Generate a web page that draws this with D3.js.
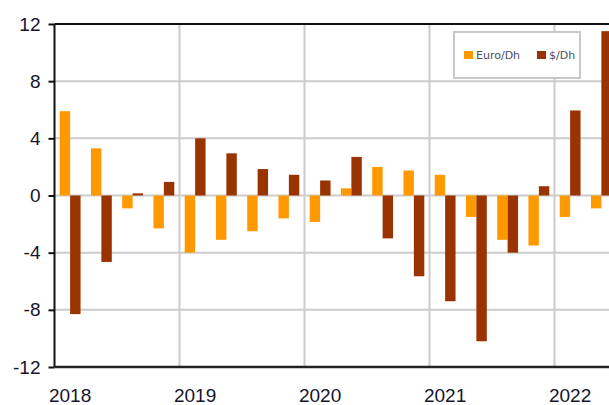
<!DOCTYPE html>
<html>
<head>
<meta charset="utf-8">
<script src="https://cdn.jsdelivr.net/npm/d3@7"></script>
<style>
  body { margin: 0; background: #fff; }
  svg { display: block; }
</style>
</head>
<body>
<svg id="chart" width="609" height="405"></svg>
<script>
// quarters 2018Q1 .. 2022Q2
var quarters = ['2018Q1','2018Q2','2018Q3','2018Q4','2019Q1','2019Q2','2019Q3','2019Q4',
                '2020Q1','2020Q2','2020Q3','2020Q4','2021Q1','2021Q2','2021Q3','2021Q4',
                '2022Q1','2022Q2'];
var yearLabels = ['2018','2019','2020','2021','2022'];
var seriesNames = ['Euro/Dh', '$/Dh'];
var euroDh = [5.9, 3.3, -0.9, -2.3, -4.0, -3.1, -2.5, -1.6,
              -1.85, 0.5, 2.0, 1.75, 1.45, -1.5, -3.1, -3.5,
              -1.5, -0.9];
var usdDh  = [-8.3, -4.65, 0.15, 0.95, 4.0, 2.95, 1.85, 1.45,
              1.05, 2.7, -3.0, -5.65, -7.4, -10.2, -4.0, 0.65,
              5.95, 11.5];
var yTicks = [-12, -8, -4, 0, 4, 8, 12];
var colours = ['#ff9900', '#993300'];

(function() {
  var svg = d3.select('#chart');
  var plotLeft = 54.5, plotTop = 24, plotBottom = 367;

  var x = d3.scaleBand().domain(quarters).range([plotLeft, plotLeft + 18 * 31.25]).padding(0);
  var xs = d3.scaleBand().domain(seriesNames).range([0, x.bandwidth()]).paddingInner(0).paddingOuter(0.5);
  var y = d3.scaleLinear().domain([-12, 12]).range([plotBottom, plotTop]);

  // grid
  var grid = svg.append('g');
  grid.selectAll('line.h')
    .data(yTicks.filter(function(d) { return d > -12 && d < 12; }))
    .enter().append('line')
    .attr('x1', plotLeft).attr('x2', 609)
    .attr('y1', function(d) { return y(d); }).attr('y2', function(d) { return y(d); })
    .attr('stroke', '#cccccc').attr('stroke-width', 2);
  grid.selectAll('line.v')
    .data(yearLabels.slice(1))
    .enter().append('line')
    .attr('x1', function(d) { return x(d + 'Q1'); }).attr('x2', function(d) { return x(d + 'Q1'); })
    .attr('y1', plotTop).attr('y2', plotBottom)
    .attr('stroke', '#cccccc').attr('stroke-width', 2);

  // bars
  var rows = quarters.map(function(q, i) { return {q: q, vals: [euroDh[i], usdDh[i]]}; });
  var groups = svg.append('g').selectAll('g')
    .data(rows).enter().append('g')
    .attr('transform', function(d) { return 'translate(' + x(d.q) + ',0)'; });
  groups.selectAll('rect')
    .data(function(d) { return d.vals.map(function(v, j) { return {name: seriesNames[j], v: v, j: j}; }); })
    .enter().append('rect')
    .attr('x', function(d) { return xs(d.name); })
    .attr('width', xs.bandwidth())
    .attr('y', function(d) { return y(Math.max(0, d.v)); })
    .attr('height', function(d) { return Math.abs(y(d.v) - y(0)); })
    .attr('fill', function(d) { return colours[d.j]; });

  // frame: left, top, bottom black
  svg.append('line').attr('x1', plotLeft).attr('x2', 609).attr('y1', plotTop).attr('y2', plotTop)
    .attr('stroke', '#111').attr('stroke-width', 2);
  svg.append('line').attr('x1', plotLeft).attr('x2', 609).attr('y1', plotBottom).attr('y2', plotBottom)
    .attr('stroke', '#222').attr('stroke-width', 2.5);
  svg.append('line').attr('x1', plotLeft).attr('x2', plotLeft).attr('y1', plotTop).attr('y2', plotBottom)
    .attr('stroke', '#111').attr('stroke-width', 2);

  // y axis (plain hyphen for negatives, like the original)
  var yAxis = svg.append('g')
    .attr('transform', 'translate(' + plotLeft + ',0)')
    .call(d3.axisLeft(y).tickValues(yTicks).tickSize(6).tickPadding(8)
      .tickFormat(function(d) { return String(d); }));
  yAxis.select('.domain').remove();
  yAxis.selectAll('line').attr('stroke', '#111').attr('stroke-width', 2);
  yAxis.selectAll('text')
    .attr('font-family', 'Liberation Sans, Arial, sans-serif')
    .attr('font-size', 19).attr('fill', '#15152e');

  // x labels at the first quarter of each year
  svg.append('g').selectAll('text')
    .data(yearLabels).enter().append('text')
    .attr('x', function(d) { return x(d + 'Q1') + x.bandwidth() / 2; })
    .attr('y', 402)
    .attr('text-anchor', 'middle')
    .attr('font-family', 'Liberation Sans, Arial, sans-serif')
    .attr('font-size', 19).attr('fill', '#15152e')
    .text(function(d) { return d; });

  // legend
  var lg = svg.append('g').attr('transform', 'translate(454,32)');
  lg.append('rect').attr('width', 126).attr('height', 46)
    .attr('fill', '#fff').attr('stroke', '#c8c8c8').attr('stroke-width', 2);
  var items = lg.selectAll('g').data(seriesNames).enter().append('g')
    .attr('transform', function(d, i) { return 'translate(' + (i === 0 ? 10 : 83) + ',19)'; });
  items.append('rect').attr('width', 9).attr('height', 8)
    .attr('fill', function(d, i) { return colours[i]; });
  items.append('text').attr('x', 12).attr('y', 8)
    .attr('font-family', 'DejaVu Sans, sans-serif')
    .attr('font-size', 11).attr('fill', '#4a4e60')
    .text(function(d) { return d; });
})();
</script>
</body>
</html>
